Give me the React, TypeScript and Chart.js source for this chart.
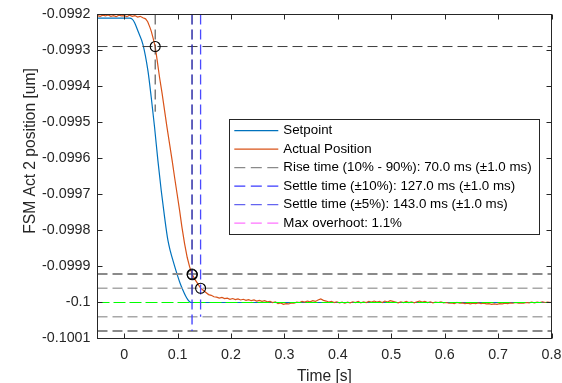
import { useEffect, useRef } from "react";
import { Chart, registerables } from "chart.js";

Chart.register(...registerables);

// ---------- data ----------
const xTicks = [0, 0.1, 0.2, 0.3, 0.4, 0.5, 0.6, 0.7, 0.8];
const yTicks = [-0.1001, -0.1, -0.0999, -0.0998, -0.0997, -0.0996, -0.0995, -0.0994, -0.0993, -0.0992];
const xRange = [-0.05, 0.8];
const yRange = [-0.1001, -0.0992];

const setpointPoints: [number, number][] = [
  [-0.05, -0.09921], [0.01, -0.09921], [0.015, -0.099213], [0.0195, -0.099223],
  [0.0257, -0.099246], [0.035, -0.099283], [0.0444, -0.099356], [0.0506, -0.09943],
  [0.0569, -0.099514], [0.0631, -0.099606], [0.0693, -0.099689], [0.0756, -0.099763],
  [0.0818, -0.099827], [0.0865, -0.099858], [0.0912, -0.099883], [0.1006, -0.099929],
  [0.105, -0.099948], [0.11, -0.099966], [0.115, -0.099982], [0.119, -0.099992],
  [0.1225, -0.099998], [0.1255, -0.1], [0.8, -0.1],
];

const actualPoints: [number, number][] = [
  [-0.05, -0.099203], [-0.045, -0.099205], [-0.04, -0.099202], [-0.035, -0.099204],
  [-0.03, -0.099201], [-0.025, -0.099205], [-0.02, -0.099203], [-0.015, -0.099206],
  [-0.01, -0.099202], [-0.005, -0.099204], [0, -0.099203], [0.005, -0.099206],
  [0.01, -0.099202], [0.015, -0.099205], [0.02, -0.099203], [0.025, -0.099207],
  [0.03, -0.099205], [0.035, -0.099209], [0.04, -0.099212], [0.044, -0.09922],
  [0.048, -0.099235], [0.0506, -0.099246], [0.054, -0.099265], [0.058, -0.099289],
  [0.062, -0.09933], [0.0662, -0.099375], [0.071, -0.09942], [0.0756, -0.099467],
  [0.08, -0.099512], [0.085, -0.09956], [0.09, -0.099608], [0.0943, -0.099652],
  [0.099, -0.099698], [0.1037, -0.099744], [0.108, -0.09979], [0.1131, -0.099837],
  [0.118, -0.099875], [0.1225, -0.099901], [0.127, -0.099921], [0.132, -0.099935],
  [0.137, -0.099946], [0.143, -0.09996], [0.148, -0.099966], [0.153, -0.099972],
  [0.158, -0.099978], [0.163, -0.09998], [0.168, -0.099984], [0.173, -0.099985],
  [0.178, -0.099988], [0.183, -0.099986], [0.188, -0.099989], [0.193, -0.099988],
  [0.198, -0.099991], [0.203, -0.099989], [0.208, -0.099992], [0.213, -0.09999],
  [0.218, -0.099993], [0.223, -0.099991], [0.228, -0.099994], [0.233, -0.099992],
  [0.238, -0.099995], [0.243, -0.099993], [0.248, -0.099996], [0.253, -0.099994],
  [0.258, -0.099997], [0.263, -0.099995], [0.268, -0.099998], [0.273, -0.099997],
  [0.278, -0.1], [0.283, -0.099998], [0.288, -0.100003], [0.293, -0.100001],
  [0.298, -0.100005], [0.303, -0.100003], [0.308, -0.100004], [0.313, -0.100001],
  [0.318, -0.100002], [0.323, -0.099999], [0.328, -0.1], [0.333, -0.099997],
  [0.338, -0.099999], [0.343, -0.099996], [0.348, -0.099998], [0.353, -0.099995],
  [0.358, -0.099997], [0.363, -0.099993], [0.368, -0.09999], [0.373, -0.099994],
  [0.378, -0.099996], [0.383, -0.099999], [0.388, -0.099997], [0.393, -0.1],
  [0.398, -0.099998], [0.403, -0.100001], [0.408, -0.099999], [0.413, -0.100002],
  [0.418, -0.099999], [0.423, -0.100001], [0.428, -0.099998], [0.433, -0.1],
  [0.438, -0.099997], [0.443, -0.100001], [0.448, -0.099998], [0.453, -0.1],
  [0.458, -0.099997], [0.463, -0.099999], [0.468, -0.099996], [0.473, -0.099999],
  [0.478, -0.099997], [0.483, -0.1], [0.488, -0.099996], [0.493, -0.099999],
  [0.498, -0.099995], [0.503, -0.099997], [0.508, -0.099999], [0.513, -0.100001],
  [0.518, -0.099998], [0.523, -0.1], [0.528, -0.099997], [0.533, -0.1],
  [0.538, -0.099998], [0.543, -0.100001], [0.548, -0.099998], [0.553, -0.099996],
  [0.558, -0.099999], [0.563, -0.099997], [0.568, -0.1], [0.573, -0.099998],
  [0.578, -0.100001], [0.583, -0.099999], [0.588, -0.1], [0.593, -0.099998],
  [0.598, -0.100001], [0.603, -0.1], [0.608, -0.100002], [0.613, -0.100001],
  [0.618, -0.100003], [0.623, -0.1], [0.628, -0.100002], [0.633, -0.100001],
  [0.638, -0.100003], [0.643, -0.100002], [0.648, -0.100004], [0.653, -0.100002],
  [0.658, -0.100003], [0.663, -0.100001], [0.668, -0.100003], [0.673, -0.100002],
  [0.678, -0.100004], [0.683, -0.100003], [0.688, -0.100005], [0.693, -0.100004],
  [0.698, -0.100005], [0.703, -0.100003], [0.708, -0.100004], [0.713, -0.100002],
  [0.718, -0.100003], [0.723, -0.100001], [0.728, -0.100002], [0.733, -0.1],
  [0.738, -0.100002], [0.743, -0.100001], [0.748, -0.100002], [0.753, -0.1],
  [0.758, -0.100001], [0.763, -0.099999], [0.768, -0.100001], [0.773, -0.099999],
  [0.778, -0.1], [0.783, -0.099998], [0.788, -0.1], [0.793, -0.099999],
  [0.798, -0.1], [0.8, -0.099999],
];

const finalValue = -0.1;
const riseLevels = [-0.099289, -0.099921]; // 10 % and 90 %
const band10 = [-0.099921, -0.100079];
const band5 = [-0.0999605, -0.1000395];
const riseStartTime = 0.058;
const riseStartLineEnd = -0.09947;
const settle10Time = 0.127;
const settle5Time = 0.143;
const riseEndOverlayEnd = -0.09999;
const markerPoints: [number, number][] = [
  [0.058, -0.099289],
  [0.127, -0.099921],
  [0.1275, -0.099923],
  [0.143, -0.0999605],
];

const legendLabels = [
  "Setpoint",
  "Actual Position",
  "Rise time (10% - 90%): 70.0 ms (±1.0 ms)",
  "Settle time (±10%): 127.0 ms (±1.0 ms)",
  "Settle time (±5%): 143.0 ms (±1.0 ms)",
  "Max overhoot: 1.1%",
];
const legendColors = ["#0072BD", "#D95319", "#8a8a8a", "#3a3aff", "#6464f0", "#ff73ff"];
const legendDashed = [false, false, true, true, true, true];

const xTitle = "Time [s]";
const yTitle = "FSM Act 2 position [um]";

// ---------- styling ----------
const FONT = '"Liberation Sans", Arial, Helvetica, sans-serif';
const AXIS_COLOR = "#262626";

const toXY = (pts: [number, number][]) => pts.map(([x, y]) => ({ x, y }));
const hLine = (v: number) => [{ x: xRange[0], y: v }, { x: xRange[1], y: v }];
const vLine = (t: number, from: number, to: number) => [{ x: t, y: from }, { x: t, y: to }];

const refLine = (data: any[], color: string, width: number, dash: number[], order: number) => ({
  data,
  borderColor: color,
  borderWidth: width,
  borderDash: dash,
  pointRadius: 0,
  fill: false,
  tension: 0,
  order,
});

const zeroPad = (s: any) => {
  s.paddingLeft = 0;
  s.paddingRight = 0;
  s.paddingTop = 0;
  s.paddingBottom = 0;
};

const framePlugin = {
  id: "frame",
  afterDatasetsDraw(chart: any) {
    const { ctx, chartArea } = chart;
    const { left, right, top, bottom } = chartArea;
    const xs = chart.scales.x;
    const ys = chart.scales.y;
    ctx.save();
    ctx.strokeStyle = AXIS_COLOR;
    ctx.lineWidth = 1;
    ctx.setLineDash([]);
    ctx.beginPath();
    const tl = 5;
    xTicks.forEach((v) => {
      const px = Math.round(xs.getPixelForValue(v)) + 0.5;
      ctx.moveTo(px, bottom);
      ctx.lineTo(px, bottom - tl);
      ctx.moveTo(px, top);
      ctx.lineTo(px, top + tl);
    });
    yTicks.forEach((v) => {
      const py = Math.round(ys.getPixelForValue(v) - 0.5) + 0.5;
      ctx.moveTo(left, py);
      ctx.lineTo(left + tl, py);
      ctx.moveTo(right, py);
      ctx.lineTo(right - tl, py);
    });
    ctx.stroke();
    ctx.strokeRect(left, top, right - left, bottom - top);

    // legend
    const lx = 229.5, ly = 119.5, lw = 310, lh = 115;
    ctx.fillStyle = "#ffffff";
    ctx.fillRect(lx, ly, lw, lh);
    ctx.strokeStyle = AXIS_COLOR;
    ctx.strokeRect(lx, ly, lw, lh);
    ctx.font = `13.35px ${FONT}`;
    ctx.textBaseline = "middle";
    ctx.textAlign = "left";
    legendLabels.forEach((label, i) => {
      const y = 130.7 + i * 18.5;
      ctx.strokeStyle = legendColors[i];
      ctx.lineWidth = 1.2;
      ctx.setLineDash(legendDashed[i] ? [11, 5.5] : []);
      ctx.beginPath();
      ctx.moveTo(234.3, y);
      ctx.lineTo(278.3, y);
      ctx.stroke();
      ctx.setLineDash([]);
      ctx.fillStyle = "#000000";
      ctx.fillText(label, 283.3, y);
    });

    // axis titles
    ctx.fillStyle = AXIS_COLOR;
    ctx.font = `15.6px ${FONT}`;
    ctx.textAlign = "center";
    ctx.textBaseline = "alphabetic";
    ctx.fillText(xTitle, (left + right) / 2, 381);
    ctx.translate(34.5, 151);
    ctx.rotate(-Math.PI / 2);
    ctx.fillText(yTitle, 0, 0);
    ctx.restore();
  },
};

export default function App() {
  const ref = useRef<HTMLCanvasElement | null>(null);
  useEffect(() => {
    if (!ref.current) return;
    const chart = new Chart(ref.current, {
      type: "line",
      data: {
        datasets: [
          { ...refLine(toXY(markerPoints), "#000", 1, [], 1), showLine: false, pointRadius: 5, pointHoverRadius: 5, pointBorderColor: "#000", pointBackgroundColor: "rgba(0,0,0,0)", pointBorderWidth: 1.1 },
          refLine(vLine(settle10Time, yRange[1], riseEndOverlayEnd), "rgba(30,30,30,0.45)", 1.3, [10, 5], 3),
          refLine(vLine(settle10Time, yRange[1], band10[1]), "#3a3aff", 1.3, [10, 5], 4),
          refLine(vLine(settle5Time, yRange[1], band5[1]), "#4a4aff", 1.3, [10, 5], 4),
          refLine(vLine(riseStartTime, yRange[1], riseStartLineEnd), "#3c3c3c", 1, [10, 5], 5),
          refLine(hLine(riseLevels[0]), "#3c3c3c", 1, [10, 5], 5),
          refLine(hLine(riseLevels[1]), "#8a8a8a", 2, [10, 5], 5),
          refLine(hLine(band10[1]), "#8a8a8a", 2, [10, 5], 5),
          refLine(hLine(band5[0]), "#a8a8a8", 1.5, [10, 5], 5),
          refLine(hLine(band5[1]), "#a8a8a8", 1.5, [10, 5], 5),
          refLine(hLine(finalValue), "#00ff00", 1.2, [12, 4], 6),
          { data: toXY(actualPoints), borderColor: "#D95319", borderWidth: 1.2, pointRadius: 0, tension: 0, fill: false, order: 7 },
          { data: toXY(setpointPoints), borderColor: "#0072BD", borderWidth: 1.2, pointRadius: 0, cubicInterpolationMode: "monotone", fill: false, order: 8 },
        ] as any,
      },
      options: {
        animation: false,
        responsive: false,
        maintainAspectRatio: false,
        devicePixelRatio: 1,
        layout: { padding: { top: 14.5, right: 10.5, left: 0, bottom: 0 } },
        plugins: { legend: { display: false }, tooltip: { enabled: false }, title: { display: false } },
        events: [],
        scales: {
          x: {
            type: "linear",
            min: xRange[0],
            max: xRange[1],
            grid: { display: false, drawTicks: false },
            border: { display: false },
            afterBuildTicks: (s: any) => { s.ticks = xTicks.map((value) => ({ value })); },
            afterFit: (s: any) => { s.height = 44.5; zeroPad(s); },
            ticks: {
              autoSkip: false,
              maxRotation: 0,
              padding: 8,
              color: AXIS_COLOR,
              font: { size: 14.3, family: FONT },
              callback: (v: any) => String(Number(Number(v).toFixed(2))),
            },
          },
          y: {
            type: "linear",
            min: yRange[0],
            max: yRange[1],
            grid: { display: false, drawTicks: false },
            border: { display: false },
            afterBuildTicks: (s: any) => { s.ticks = yTicks.map((value) => ({ value })); },
            afterFit: (s: any) => { s.width = 97.5; zeroPad(s); },
            ticks: {
              autoSkip: false,
              padding: 7,
              color: AXIS_COLOR,
              font: { size: 14.3, family: FONT },
              callback: (v: any) => String(Number(Number(v).toFixed(4))),
            },
          },
        },
      } as any,
      plugins: [framePlugin],
    });
    return () => chart.destroy();
  }, []);
  return (
    <div style={{ position: "fixed", left: 0, top: 0, width: 562, height: 383, background: "#fff" }}>
      <canvas ref={ref} width={562} height={383} style={{ width: 562, height: 383, display: "block" }} />
    </div>
  );
}
